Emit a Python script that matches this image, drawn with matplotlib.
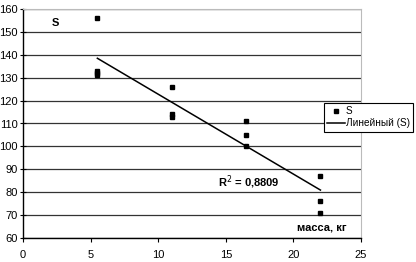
import matplotlib.pyplot as plt
import numpy as np

plt.rcParams['font.family'] = ['Liberation Sans', 'DejaVu Sans']

# данные
mass = [5.5, 5.5, 5.5, 5.5, 11, 11, 11, 16.5, 16.5, 16.5, 22, 22, 22]
S = [156, 133, 132, 131, 126, 114, 113, 111, 105, 100, 87, 76, 71]
x_ticks = [0, 5, 10, 15, 20, 25]
y_ticks = [60, 70, 80, 90, 100, 110, 120, 130, 140, 150, 160]
r2_text = 'R$^2$ = 0,8809'

fig = plt.figure(figsize=(4.16, 2.62), dpi=100)
ax = fig.add_axes([23 / 416, 24 / 262, 338 / 416, 229 / 262])

# линейный тренд
k, b = np.polyfit(mass, S, 1)
xl = np.array([min(mass), max(mass)])
ax.plot(mass, S, 's', color='black', markersize=3.2, label='S', zorder=3)
ax.plot(xl, k * xl + b, '-', color='black', linewidth=1.1, label='Линейный (S)', zorder=2)

ax.set_xlim(0, 25)
ax.set_ylim(60, 160)
ax.set_xticks(x_ticks)
ax.set_yticks(y_ticks)
ax.tick_params(labelsize=8, length=3, width=0.8, color='black', pad=6)
ax.tick_params(axis='y', pad=2, direction='inout', length=4)
ax.grid(axis='y', color='#333333', linewidth=0.9)
ax.set_axisbelow(True)
for s in ['top', 'right']:
    ax.spines[s].set_color('#bbbbbb')
    ax.spines[s].set_linewidth(0.8)
for s in ['left', 'bottom']:
    ax.spines[s].set_color('black')
    ax.spines[s].set_linewidth(1.0)

ax.text(2.1, 152.5, 'S', fontsize=8, fontweight='bold')
ax.text(20.3, 63.3, 'масса, кг', fontsize=8, fontweight='bold')
ax.text(14.4, 82.5, r2_text, fontsize=8, fontweight='bold')

leg = fig.legend(loc='upper left', bbox_to_anchor=(324 / 416, 1 - 103 / 262), fontsize=7.2,
                 frameon=True, fancybox=False, edgecolor='black', framealpha=1,
                 handlelength=1.8, handletextpad=0.1, borderpad=0.3, borderaxespad=0,
                 labelspacing=0.25)
leg.get_frame().set_linewidth(0.8)

plt.savefig('out.png', dpi=100)
